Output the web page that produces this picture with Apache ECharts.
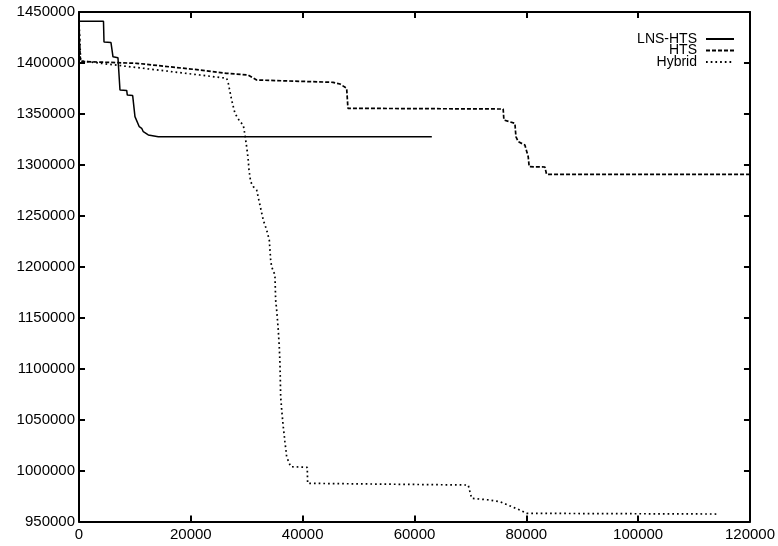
<!DOCTYPE html>
<html>
<head>
<meta charset="utf-8">
<script src="https://cdn.jsdelivr.net/npm/echarts@6/dist/echarts.min.js"></script>
<style>html,body{margin:0;padding:0;background:#fff}#c{width:778px;height:546px}</style>
</head>
<body>
<div id="c"></div>
<script>
const seriesNames = ['LNS-HTS', 'HTS', 'Hybrid'];
const xTickValues = [0, 20000, 40000, 60000, 80000, 100000, 120000];
const yTickValues = [950000, 1000000, 1050000, 1100000, 1150000, 1200000, 1250000, 1300000, 1350000, 1400000, 1450000];

const lnsX = [0, 4380, 4470, 5720, 6080, 6970, 7330, 8530, 8640, 9600, 10010, 10780, 11210, 11500, 12390, 14180, 63100];
const lnsY = [1441000, 1441000, 1420500, 1420000, 1406000, 1405000, 1373500, 1373000, 1368500, 1368000, 1347300, 1337400, 1335900, 1332500, 1329300, 1327600, 1327600];

const htsX = [0, 250, 10320, 21630, 26410, 30220, 31770, 45420, 46670, 47870, 48100, 75860, 75990, 77960, 78140, 78550, 79740, 80340, 80510, 83320, 83620, 120000];
const htsY = [1436000, 1401500, 1399650, 1393080, 1389840, 1388170, 1383260, 1381010, 1379340, 1375120, 1355490, 1354800, 1344010, 1340770, 1327620, 1322710, 1319470, 1307990, 1298180, 1297880, 1290720, 1290720];

const hybX = [0, 300, 21630, 26410, 26700, 27300, 27890, 28790, 29380, 29680, 29980, 30270, 30400, 30700, 31170, 31770, 32360, 32950, 33560, 34030, 34280, 34450, 35040, 35170, 35350, 35640, 35820, 35940, 36070, 36250, 36530, 36830, 37140, 37850, 40820, 40890, 69610, 70220, 73490, 75280, 78850, 80050, 114020];
const hybY = [1442000, 1402000, 1388170, 1384930, 1380030, 1363640, 1350580, 1342340, 1339100, 1329290, 1317810, 1304760, 1294950, 1283470, 1278560, 1275310, 1260600, 1245870, 1236060, 1226240, 1206610, 1200040, 1191890, 1167350, 1157540, 1137910, 1121520, 1105230, 1072460, 1059410, 1043020, 1028300, 1013580, 1003760, 1003170, 987470, 985800, 972750, 971080, 969410, 961260, 958020, 957330];

function zip(xs, ys) { return xs.map((x, i) => [x, ys[i]]); }

const FONT = 'Liberation Sans';
const xMin = xTickValues[0], xMax = xTickValues[xTickValues.length - 1];
const yMin = yTickValues[0], yMax = yTickValues[yTickValues.length - 1];
const xInt = xTickValues[1] - xTickValues[0];
const yInt = yTickValues[1] - yTickValues[0];

const axisLine = { show: true, onZero: false, lineStyle: { color: '#000', width: 2 } };
const axisTick = { show: true, inside: true, length: 6, lineStyle: { color: '#000', width: 2 } };
const label = { color: '#000', fontFamily: FONT, fontSize: 15, formatter: v => String(v) };

const chart = echarts.init(document.getElementById('c'), null, { renderer: 'canvas' });
chart.setOption({
  animation: false,
  backgroundColor: '#fff',
  grid: { left: 79, right: 28, top: 12, bottom: 24.5, containLabel: false },
  legend: {
    data: seriesNames,
    orient: 'vertical',
    right: 38,
    top: 27,
    align: 'right',
    itemWidth: 28,
    itemHeight: 8,
    itemGap: -2.5,
    itemStyle: { opacity: 0 },
    textStyle: { color: '#000', fontFamily: FONT, fontSize: 14, padding: [0, 4, 0, 0] }
  },
  xAxis: [
    { type: 'value', position: 'bottom', min: xMin, max: xMax, interval: xInt,
      axisLine, axisTick, splitLine: { show: false },
      axisLabel: Object.assign({ margin: 6 }, label) },
    { type: 'value', position: 'top', min: xMin, max: xMax, interval: xInt,
      axisLine, axisTick, splitLine: { show: false }, axisLabel: { show: false } }
  ],
  yAxis: [
    { type: 'value', position: 'left', min: yMin, max: yMax, interval: yInt,
      axisLine, axisTick, splitLine: { show: false },
      axisLabel: Object.assign({ margin: 4 }, label) },
    { type: 'value', position: 'right', min: yMin, max: yMax, interval: yInt,
      axisLine, axisTick, splitLine: { show: false }, axisLabel: { show: false } }
  ],
  series: [
    { name: seriesNames[0], type: 'line', data: zip(lnsX, lnsY), symbol: 'none',
      lineStyle: { color: '#000', width: 1.5, type: 'solid' }, itemStyle: { color: '#000' } },
    { name: seriesNames[1], type: 'line', data: zip(htsX, htsY), symbol: 'none',
      lineStyle: { color: '#000', width: 1.7, type: [4, 2] }, itemStyle: { color: '#000' } },
    { name: seriesNames[2], type: 'line', data: zip(hybX, hybY), symbol: 'none',
      lineStyle: { color: '#000', width: 1.7, type: [1.7, 3] }, itemStyle: { color: '#000' } }
  ]
});
</script>
</body>
</html>
